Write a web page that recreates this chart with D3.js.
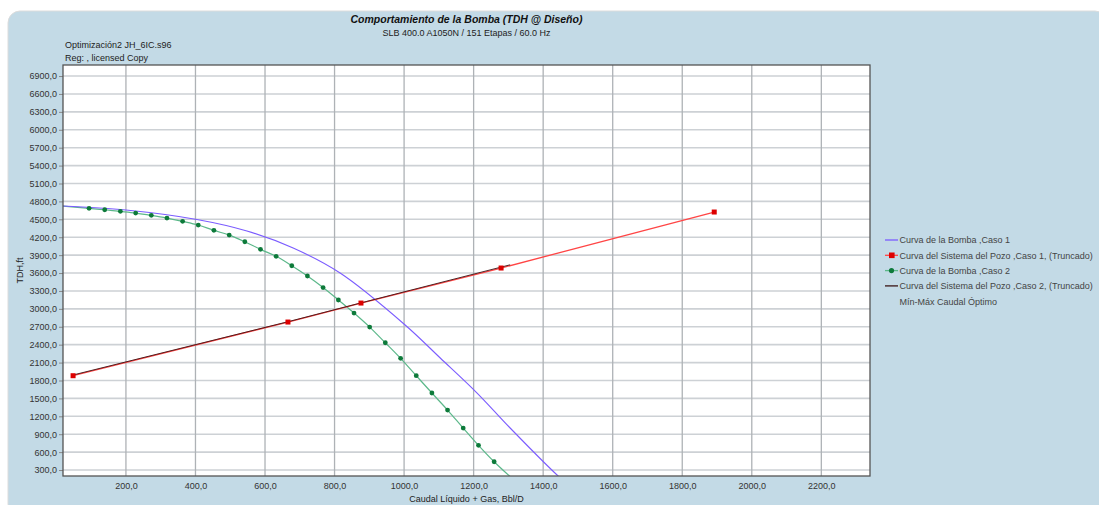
<!DOCTYPE html>
<html>
<head>
<meta charset="utf-8">
<script src="https://cdn.jsdelivr.net/npm/d3@7"></script>
<style>
  html, body { margin: 0; padding: 0; background: #fff; }
  svg { display: block; font-family: "Liberation Sans", Arial, sans-serif; }
</style>
</head>
<body>
<svg id="chart" width="1099" height="505"></svg>
<script>
'use strict';

// Curva de la Bomba, Caso 1 (sin marcadores)
const bomba1Q = [19, 200, 404, 548, 681, 816, 1003, 1104, 1210, 1305, 1443, 1449];
const bomba1H = [4723, 4656, 4497, 4304, 4019, 3600, 2730, 2177, 1590, 1004, 200, 170];

// Curva del Sistema del Pozo, Caso 1 (Truncado)
const sistema1Q = [48, 666, 876, 1279, 1892];
const sistema1H = [1880, 2779, 3097, 3684, 4622];

// Curva de la Bomba, Caso 2
const bomba2Q = [19, 94, 139, 184, 228, 273, 318, 363, 408, 453, 497, 542, 587, 632, 677,
  722, 767, 811, 856, 901, 946, 990, 1035, 1080, 1125, 1170, 1214, 1259, 1305];
const bomba2H = [4722, 4684, 4660, 4633, 4605, 4566, 4521, 4466, 4404, 4315, 4236, 4124, 3997, 3880, 3722,
  3550, 3357, 3148, 2930, 2695, 2432, 2171, 1880, 1590, 1305, 1003, 714, 439, 190];
// primer y ultimo punto sin marcador
const bomba2Marked = bomba2Q.map((q, i) => i > 0 && i < bomba2Q.length - 1);

// Curva del Sistema del Pozo, Caso 2 (Truncado)
const sistema2Q = [48, 666, 876, 1305];
const sistema2H = [1892, 2784, 3100, 3738];

const xTicks = [200, 400, 600, 800, 1000, 1200, 1400, 1600, 1800, 2000, 2200];
const yTicks = [300, 600, 900, 1200, 1500, 1800, 2100, 2400, 2700, 3000, 3300, 3600, 3900,
  4200, 4500, 4800, 5100, 5400, 5700, 6000, 6300, 6600, 6900];

const legendLabels = [
  "Curva de la Bomba ,Caso 1",
  "Curva del Sistema del Pozo ,Caso 1, (Truncado)",
  "Curva de la Bomba ,Caso 2",
  "Curva del Sistema del Pozo ,Caso 2, (Truncado)",
  "Mín-Máx Caudal Óptimo"
];

const colors = { bomba1: "#7b5cff", sistema1: "#ff4545", sistema1Mark: "#dd0000",
  bomba2: "#5cb88a", bomba2Mark: "#0d7a3a", sistema2: "#3a1414" };

const svg = d3.select("#chart");
const W = 1099, H = 505;
const plot = { left: 63, right: 870, top: 65, bottom: 476 };
const fmt = d => d.toFixed(1).replace(".", ",");

// fondo del panel
svg.append("rect")
  .attr("x", 8).attr("y", 11)
  .attr("width", W).attr("height", H)
  .attr("rx", 12)
  .attr("fill", "#c3dae6")
  .attr("stroke", "#dcdcdc")
  .attr("stroke-width", 1);

svg.append("rect")
  .attr("x", plot.left).attr("y", plot.top)
  .attr("width", plot.right - plot.left).attr("height", plot.bottom - plot.top)
  .attr("fill", "#fff");

const x = d3.scaleLinear().domain([19, 2340]).range([plot.left, plot.right]);
const y = d3.scaleLinear().domain([200, 7085]).range([plot.bottom, plot.top]);

// Grid
svg.append("g")
  .selectAll("line")
  .data(yTicks)
  .join("line")
  .attr("x1", plot.left).attr("x2", plot.right)
  .attr("y1", d => y(d)).attr("y2", d => y(d))
  .attr("stroke", "#cdd1d5")
  .attr("stroke-width", 1.6);

svg.append("g")
  .selectAll("line")
  .data(xTicks)
  .join("line")
  .attr("x1", d => x(d)).attr("x2", d => x(d))
  .attr("y1", plot.top).attr("y2", plot.bottom)
  .attr("stroke", "#aeb2b6")
  .attr("stroke-width", 1.3);

// Axes
const yAxis = svg.append("g")
  .attr("transform", `translate(${plot.left},0)`)
  .call(d3.axisLeft(y).tickValues(yTicks).tickFormat(fmt).tickSize(4).tickPadding(2));
yAxis.select(".domain").remove();
yAxis.selectAll(".tick line").attr("stroke", "#888");
yAxis.selectAll("text").attr("fill", "#333").style("font-size", "9px");

const xAxis = svg.append("g")
  .attr("transform", `translate(0,${plot.bottom})`)
  .call(d3.axisBottom(x).tickValues(xTicks).tickFormat(fmt).tickSize(0).tickPadding(7));
xAxis.select(".domain").remove();
xAxis.selectAll("text").attr("fill", "#333").style("font-size", "9px");

// Series
svg.append("clipPath").attr("id", "plot-clip")
  .append("rect")
  .attr("x", plot.left).attr("y", plot.top)
  .attr("width", plot.right - plot.left).attr("height", plot.bottom - plot.top);

const series = svg.append("g").attr("clip-path", "url(#plot-clip)");

const smooth = d3.line().x(d => x(d[0])).y(d => y(d[1])).curve(d3.curveCatmullRom.alpha(0.5));
const straight = d3.line().x(d => x(d[0])).y(d => y(d[1]));

series.append("path")
  .datum(bomba2Q.map((q, i) => [q, bomba2H[i]]))
  .attr("fill", "none")
  .attr("stroke", colors.bomba2)
  .attr("stroke-width", 1.2)
  .attr("d", smooth);

series.append("path")
  .datum(bomba1Q.map((q, i) => [q, bomba1H[i]]))
  .attr("fill", "none")
  .attr("stroke", colors.bomba1)
  .attr("stroke-width", 1.1)
  .attr("d", smooth);

series.append("path")
  .datum(sistema1Q.map((q, i) => [q, sistema1H[i]]))
  .attr("fill", "none")
  .attr("stroke", colors.sistema1)
  .attr("stroke-width", 1.3)
  .attr("d", straight);

series.append("path")
  .datum(sistema2Q.map((q, i) => [q, sistema2H[i]]))
  .attr("fill", "none")
  .attr("stroke", colors.sistema2)
  .attr("stroke-width", 0.9)
  .attr("d", straight);

series.selectAll(".dot-b2")
  .data(bomba2Q.map((q, i) => [q, bomba2H[i]]).filter((d, i) => bomba2Marked[i]))
  .join("circle")
  .attr("class", "dot-b2")
  .attr("cx", d => x(d[0]))
  .attr("cy", d => y(d[1]))
  .attr("r", 2.4)
  .attr("fill", colors.bomba2Mark);

series.selectAll(".dot-s1")
  .data(sistema1Q.map((q, i) => [q, sistema1H[i]]))
  .join("rect")
  .attr("class", "dot-s1")
  .attr("x", d => x(d[0]) - 2.5)
  .attr("y", d => y(d[1]) - 2.5)
  .attr("width", 5).attr("height", 5)
  .attr("fill", colors.sistema1Mark);

// marco
svg.append("rect")
  .attr("x", plot.left).attr("y", plot.top)
  .attr("width", plot.right - plot.left).attr("height", plot.bottom - plot.top)
  .attr("fill", "none")
  .attr("stroke", "#555")
  .attr("stroke-width", 1.3);

// Titulos
const cx = (plot.left + plot.right) / 2;
svg.append("text")
  .attr("x", cx).attr("y", 23)
  .attr("text-anchor", "middle")
  .style("font-size", "10.5px").style("font-weight", "bold").style("font-style", "italic")
  .attr("fill", "#111")
  .text("Comportamiento de la Bomba (TDH @ Diseño)");

svg.append("text")
  .attr("x", cx).attr("y", 35.5)
  .attr("text-anchor", "middle")
  .style("font-size", "9px")
  .attr("fill", "#222")
  .text("SLB 400.0 A1050N / 151 Etapas / 60.0 Hz");

svg.append("text")
  .attr("x", 65).attr("y", 47.5)
  .style("font-size", "9px").attr("fill", "#222")
  .text("Optimización2 JH_6IC.s96");

svg.append("text")
  .attr("x", 65).attr("y", 60.5)
  .style("font-size", "9px").attr("fill", "#222")
  .text("Reg: , licensed Copy");

svg.append("text")
  .attr("x", cx).attr("y", 501.5)
  .attr("text-anchor", "middle")
  .style("font-size", "9px").attr("fill", "#222")
  .text("Caudal Líquido + Gas, Bbl/D");

svg.append("text")
  .attr("transform", `translate(23,${(plot.top + plot.bottom) / 2}) rotate(-90)`)
  .attr("text-anchor", "middle")
  .style("font-size", "9px").attr("fill", "#222")
  .text("TDH,ft");

// Leyenda
const legendColors = [colors.bomba1, colors.sistema1, colors.bomba2, colors.sistema2, null];
const legendMarks = [null, "square", "circle", null, null];
const legend = svg.append("g").attr("transform", "translate(885,240)");

legendLabels.forEach((label, i) => {
  const row = legend.append("g").attr("transform", `translate(0,${i * 15.3})`);
  if (legendColors[i]) {
    row.append("line")
      .attr("x1", 0).attr("x2", 13)
      .attr("stroke", legendColors[i])
      .attr("stroke-width", 1.3);
  }
  if (legendMarks[i] === "square") {
    row.append("rect").attr("x", 4).attr("y", -2.8).attr("width", 5.6).attr("height", 5.6)
      .attr("fill", colors.sistema1Mark);
  } else if (legendMarks[i] === "circle") {
    row.append("circle").attr("cx", 6.5).attr("cy", 0).attr("r", 2.6).attr("fill", colors.bomba2Mark);
  }
  row.append("text")
    .attr("x", 14.5).attr("y", 3.3)
    .style("font-size", "9px").attr("fill", "#444")
    .text(label);
});
</script>
</body>
</html>
